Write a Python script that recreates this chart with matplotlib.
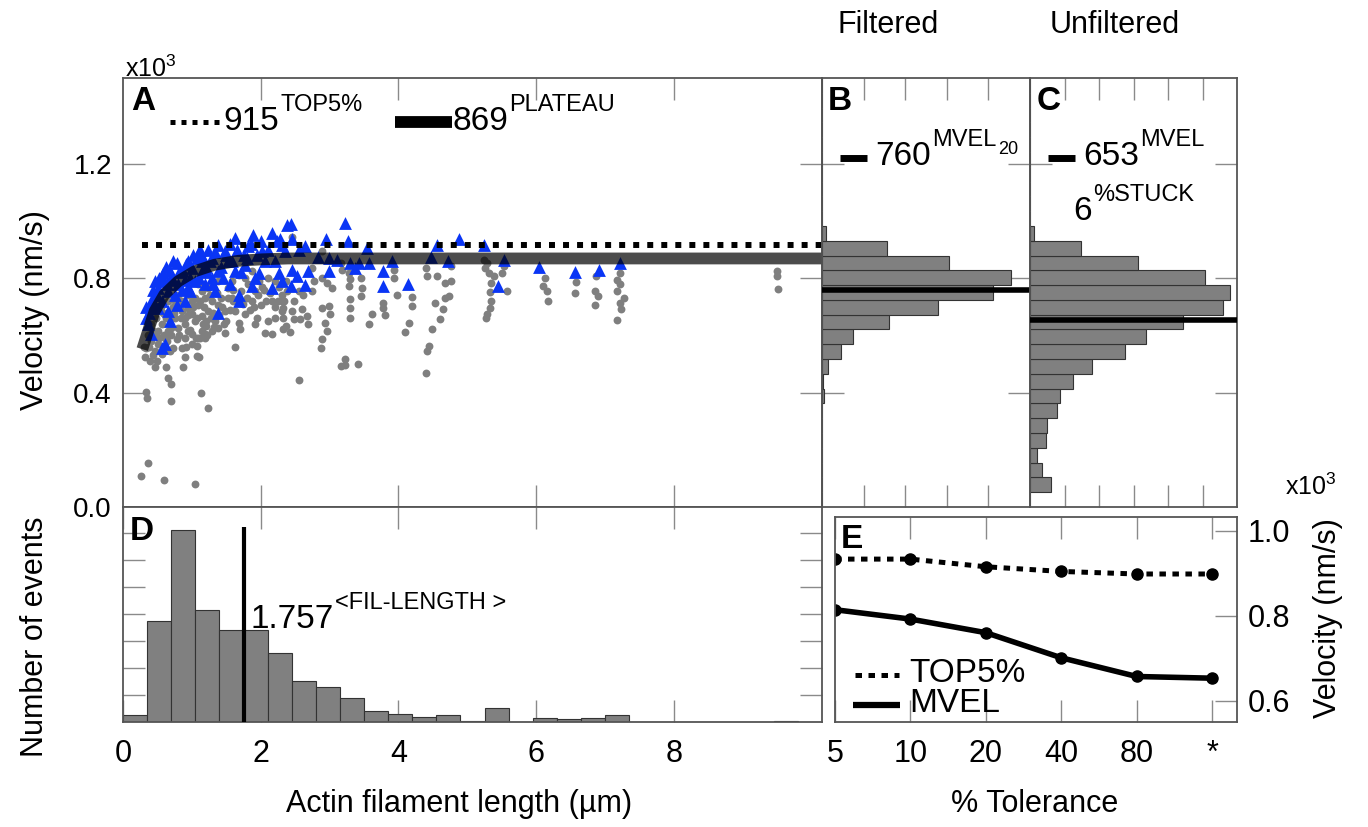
import numpy as np
import matplotlib
matplotlib.use("Agg")
import matplotlib.pyplot as plt
from matplotlib.lines import Line2D

plt.rcParams['font.family'] = ['Liberation Sans', 'DejaVu Sans']
plt.rcParams['mathtext.fontset'] = 'custom'
plt.rcParams['mathtext.rm'] = 'Liberation Sans'

# ---------------- data (velocity in 10^3 nm/s, length in um) ----------------
grey_len = [0.26, 0.36, 0.60, 1.05, 0.34, 0.35, 0.70, 1.13, 1.24, 0.65, 0.69, 2.55, 4.40,
            0.46, 0.63, 0.87, 1.07, 1.10, 1.62, 1.12,
            0.32, 0.39, 0.34, 0.46, 0.56, 0.68, 0.73, 0.61, 0.78, 0.90, 1.00, 1.09, 1.19, 1.14,
            1.21, 1.38, 1.48, 1.34, 1.04, 0.90, 0.80, 0.90, 1.00, 1.14, 1.24, 1.38, 1.48, 1.58,
            1.68, 1.70, 1.63, 1.77, 1.92, 1.94, 2.06, 2.16, 2.11, 2.21, 2.31, 2.36, 2.01, 1.87,
            2.16, 2.31, 1.92, 1.72, 1.53, 1.43, 1.29, 1.19, 1.09, 1.04, 0.95, 0.85, 0.75, 0.70,
            0.51, 0.41, 0.51, 0.56, 0.66, 0.80, 1.14, 1.38, 1.58, 1.77, 1.97, 2.11, 2.21, 2.36,
            1.68, 1.87, 1.09, 1.24, 0.95, 1.29, 1.07, 1.19, 1.00, 0.85, 0.90,
            0.60, 0.45, 0.62, 0.72, 0.95, 0.55, 1.30, 1.60, 1.85, 2.05, 2.25, 1.50, 0.80, 1.20,
            1.00, 0.40,
            0.42, 0.48, 0.52, 0.58, 0.64, 0.66, 0.70, 0.74, 0.76, 0.82, 0.84, 0.86, 0.92, 0.94,
            0.98, 1.02, 1.06, 1.08, 1.12, 1.16, 1.18, 1.22, 1.26, 1.28, 1.32, 1.36, 1.40, 1.44,
            1.46, 1.52, 1.55, 1.60, 1.66, 1.74, 1.80, 1.82, 1.90, 1.96, 2.02, 2.08, 2.14, 2.20,
            2.26, 2.34, 0.38, 0.44, 0.50, 0.58, 0.30, 0.36,
            2.45, 2.89, 3.16, 3.18, 2.74, 2.89, 2.96, 3.03, 3.28, 3.30, 3.28, 3.45, 3.47, 3.45,
            3.30, 3.30, 3.30, 2.89, 2.99, 3.01, 2.94, 2.96, 2.89, 2.87, 3.23, 3.16, 3.23, 3.41,
            3.93, 3.93, 3.98, 3.77, 3.78, 3.80, 3.61, 3.57, 4.19, 4.19, 4.15, 4.10, 4.40, 4.42,
            4.56, 4.67, 4.76, 4.73, 4.68, 4.53, 4.64, 4.61, 4.49, 4.44, 4.42, 4.76, 2.31, 2.38,
            2.48, 2.33, 2.45, 2.33, 2.48, 2.33, 2.43, 2.57, 2.67, 2.69, 2.60, 2.74, 2.62, 2.77,
            2.55,
            5.24, 5.29, 5.26, 5.32, 5.39, 5.34, 5.33, 5.34, 5.33, 5.29, 5.27, 5.51, 5.53, 5.57,
            6.13, 6.10, 6.15, 6.17, 6.58, 6.56, 6.87, 6.85, 6.90, 6.85,
            7.22, 7.18, 7.21, 7.17, 7.27, 7.22, 7.23, 7.17, 9.50, 9.50, 9.51]
grey_vel = [0.110, 0.155, 0.096, 0.082, 0.402, 0.380, 0.369, 0.398, 0.347, 0.450, 0.430, 0.444, 0.468,
            0.490, 0.490, 0.490, 0.527, 0.523, 0.560, 0.592,
            0.523, 0.512, 0.557, 0.546, 0.535, 0.546, 0.557, 0.592, 0.587, 0.592, 0.604, 0.592, 0.592, 0.616,
            0.633, 0.627, 0.610, 0.650, 0.650, 0.639, 0.627, 0.662, 0.674, 0.668, 0.685, 0.708, 0.685, 0.731,
            0.645, 0.621, 0.685, 0.674, 0.639, 0.662, 0.610, 0.604, 0.650, 0.662, 0.685, 0.633, 0.708, 0.720,
            0.720, 0.743, 0.755, 0.755, 0.766, 0.731, 0.720, 0.731, 0.708, 0.731, 0.697, 0.685, 0.662, 0.627,
            0.616, 0.581, 0.569, 0.639, 0.616, 0.743, 0.755, 0.789, 0.789, 0.801, 0.789, 0.801, 0.789, 0.789,
            0.812, 0.824, 0.778, 0.766, 0.616, 0.616, 0.562, 0.604, 0.569, 0.557, 0.523,
            0.600, 0.600, 0.660, 0.700, 0.740, 0.700, 0.680, 0.720, 0.690, 0.760, 0.720, 0.650, 0.700, 0.650,
            0.720, 0.640,
            0.620, 0.660, 0.590, 0.680, 0.580, 0.720, 0.600, 0.680, 0.720, 0.600, 0.660, 0.720, 0.560, 0.670,
            0.620, 0.700, 0.590, 0.660, 0.720, 0.640, 0.700, 0.600, 0.740, 0.660, 0.630, 0.750, 0.670, 0.700,
            0.640, 0.730, 0.690, 0.760, 0.720, 0.710, 0.730, 0.780, 0.700, 0.740, 0.770, 0.720, 0.750, 0.700,
            0.770, 0.720, 0.560, 0.530, 0.510, 0.560, 0.560, 0.600,
            0.945, 0.894, 0.853, 0.830, 0.836, 0.801, 0.784, 0.767, 0.819, 0.796, 0.773, 0.801, 0.767, 0.738,
            0.726, 0.697, 0.660, 0.697, 0.703, 0.674, 0.645, 0.616, 0.587, 0.555, 0.517, 0.494, 0.498, 0.501,
            0.830, 0.801, 0.743, 0.714, 0.697, 0.671, 0.676, 0.639, 0.733, 0.703, 0.645, 0.613, 0.836, 0.807,
            0.807, 0.784, 0.790, 0.738, 0.732, 0.714, 0.691, 0.656, 0.622, 0.564, 0.546, 0.842, 0.720, 0.755,
            0.720, 0.697, 0.685, 0.662, 0.656, 0.622, 0.613, 0.656, 0.668, 0.639, 0.691, 0.755, 0.743, 0.790,
            0.755,
            0.865, 0.854, 0.836, 0.819, 0.807, 0.784, 0.752, 0.720, 0.697, 0.674, 0.662, 0.819, 0.842, 0.755,
            0.801, 0.772, 0.755, 0.720, 0.786, 0.749, 0.807, 0.755, 0.737, 0.705,
            0.818, 0.795, 0.778, 0.755, 0.732, 0.714, 0.691, 0.654, 0.824, 0.807, 0.763]

blue_len = [0.34, 0.41, 0.46, 0.51, 0.58, 0.68, 0.78, 0.87, 1.07, 1.09, 1.24, 1.38, 1.63, 1.89,
            2.16, 2.38, 1.48, 1.82, 2.02, 2.31, 1.14, 1.04, 0.80, 0.66, 0.56, 0.51, 0.36, 0.41,
            0.56, 0.61, 0.68, 0.66, 0.90, 0.78, 0.97, 1.19, 1.33, 1.38, 1.29, 1.38, 1.63, 1.68,
            1.68, 1.87, 1.97, 2.16, 2.26, 2.21, 2.06, 1.77, 1.53, 1.29, 1.00, 1.14, 0.90, 0.73,
            0.44, 0.95, 1.20, 1.45, 1.75, 0.60, 0.85, 1.10, 0.50, 2.00, 1.55,
            0.38, 0.43, 0.47, 0.53, 0.62, 0.70, 0.72, 0.76, 0.82, 0.92, 0.98, 1.02, 1.12, 1.16,
            1.22, 1.26, 1.34, 1.42, 1.50, 1.58, 1.66, 1.72, 1.80, 1.86, 1.94, 2.10, 2.24, 0.33,
            0.40, 0.48, 0.64, 0.94, 1.30, 1.56, 1.92,
            2.44, 3.23, 4.88, 2.28, 2.46, 2.95, 3.27, 3.54, 4.56, 2.65, 2.55, 2.355, 2.83, 2.99,
            3.11, 3.30, 3.42, 3.57, 3.91, 4.47, 4.72, 3.37, 3.78, 2.45, 2.69, 2.99, 2.52, 2.31,
            2.44, 2.65, 3.77, 4.14,
            5.24, 5.44, 5.53, 6.04, 6.57, 6.91, 7.22]
blue_vel = [0.662, 0.697, 0.743, 0.766, 0.818, 0.824, 0.853, 0.824, 0.870, 0.888, 0.899, 0.917, 0.940, 0.951,
            0.957, 0.986, 0.894, 0.911, 0.894, 0.917, 0.824, 0.789, 0.778, 0.755, 0.720, 0.697, 0.639, 0.604,
            0.557, 0.569, 0.650, 0.685, 0.720, 0.708, 0.755, 0.778, 0.755, 0.679, 0.801, 0.824, 0.824, 0.743,
            0.720, 0.772, 0.818, 0.766, 0.818, 0.859, 0.859, 0.847, 0.859, 0.870, 0.836, 0.859, 0.795, 0.795,
            0.720, 0.860, 0.840, 0.800, 0.880, 0.790, 0.760, 0.800, 0.740, 0.930, 0.920,
            0.680, 0.760, 0.790, 0.800, 0.840, 0.800, 0.860, 0.740, 0.820, 0.850, 0.800, 0.880, 0.900, 0.870,
            0.820, 0.860, 0.890, 0.840, 0.880, 0.860, 0.900, 0.820, 0.870, 0.920, 0.880, 0.900, 0.930, 0.700,
            0.720, 0.700, 0.780, 0.770, 0.780, 0.780, 0.800,
            0.989, 0.992, 0.938, 0.938, 0.938, 0.938, 0.929, 0.906, 0.915, 0.911, 0.899, 0.894, 0.873, 0.871,
            0.865, 0.853, 0.853, 0.853, 0.859, 0.873, 0.859, 0.834, 0.825, 0.830, 0.825, 0.825, 0.807, 0.790,
            0.773, 0.776, 0.773, 0.779,
            0.917, 0.772, 0.862, 0.840, 0.821, 0.828, 0.853]

# fitted curve
fit_len = [0.28, 0.38, 0.46, 0.60, 0.80, 1.04, 1.33, 1.68, 2.02, 2.40, 3.00, 10.15]
fit_vel = [0.552, 0.627, 0.685, 0.743, 0.789, 0.824, 0.847, 0.861, 0.866, 0.869, 0.869, 0.869]
top5_level = 0.915
top5_start = 0.27

# velocity histograms (29 bins over 0-1.5), B = filtered, C = unfiltered
filt_counts = [0, 0, 0, 0, 0, 0, 0, 0.5, 0.3, 1.5, 4.5, 7.5, 16.2, 28.0, 41.0, 45.4, 30.6, 15.6, 1.0,
               0, 0, 0, 0, 0, 0, 0, 0, 0, 0]
unfilt_counts = [0, 6.1, 3.5, 1.9, 4.5, 5.0, 7.8, 8.8, 12.6, 18.0, 27.5, 33.7, 44.3, 55.8, 58.1, 50.6,
                 31.3, 14.7, 1.1, 0, 0, 0, 0, 0, 0, 0, 0, 0, 0]
mvel20 = 0.760
mvel_all = 0.653

# filament length histogram (29 bins over 0-10.15)
len_counts = [5, 75, 142, 83, 68, 68, 51, 30, 26, 18, 8, 6, 4, 5, 1, 10, 0, 3, 2, 3, 5,
              0, 0, 0, 0, 0, 0, 1, 0]
mean_len = 1.757

# tolerance panel
tol_labels = ['5', '10', '20', '40', '80', '*']
top5_tol = [0.933, 0.933, 0.915, 0.904, 0.898, 0.898]
mvel_tol = [0.814, 0.792, 0.760, 0.701, 0.657, 0.653]

# ---------------- layout ----------------
W, H = 1368, 827
fig = plt.figure(figsize=(W / 100, H / 100), dpi=100)


def box(l, t, r, b):
    return [l / W, 1 - b / H, (r - l) / W, (b - t) / H]


def frame(ax, size=20):
    for s in ax.spines.values():
        s.set_color('#555555')
        s.set_linewidth(1.3)
    ax.tick_params(which='both', direction='in', length=16, width=1.0, color='#8a8a8a',
                   top=True, right=True, labelsize=size, pad=8)


def sup_text(ax, x, y, main, sup, sub=None, size=24, supsize=17):
    t = ax.text(x, y, main, transform=ax.transAxes, fontsize=size, va='baseline', ha='left')
    s = ax.annotate(sup, xy=(1, 1), xycoords=t, xytext=(1, 1), textcoords='offset points',
                    fontsize=supsize, va='center', ha='left')
    if sub:
        ax.annotate(sub, xy=(1, 0.05), xycoords=s, xytext=(1, 0), textcoords='offset points',
                    fontsize=13, va='center', ha='left')
    return t


def sample(ax, x0, x1, y, **kw):
    ax.add_line(Line2D([x0, x1], [y, y], transform=ax.transAxes, color='black', **kw))


axA = fig.add_axes(box(123, 78, 822, 507))
axB = fig.add_axes(box(822, 78, 1030, 507))
axC = fig.add_axes(box(1030, 78, 1237, 507))
axD = fig.add_axes(box(123, 507, 822, 722))
axE = fig.add_axes(box(835, 517, 1237, 722))

# ---- A: velocity vs length
axA.scatter(grey_len, grey_vel, s=32, color='#7f7f7f', lw=0, zorder=2)
axA.scatter(blue_len, blue_vel, s=85, marker='^', color='#0a35f5', lw=0, zorder=3)
axA.plot(fit_len, fit_vel, color='black', alpha=0.7, lw=8.5, solid_capstyle='butt', zorder=4)
axA.plot([top5_start, 10.15], [top5_level, top5_level], color='black', lw=4.3,
         ls=(0, (1, 1.35)), zorder=5)
axA.set_xlim(0, 10.15)
axA.set_ylim(0, 1.5)
axA.set_xticks([2, 4, 6, 8])
axA.set_xticklabels([])
axA.set_yticks([0, 0.4, 0.8, 1.2])
axA.set_yticklabels(['0.0', '0.4', '0.8', '1.2'])
frame(axA)
axA.text(0.012, 0.925, 'A', transform=axA.transAxes, fontsize=24, fontweight='bold')
sample(axA, 0.067, 0.137, 0.897, lw=3.6, ls=(0, (1, 1.2)))
sup_text(axA, 0.143, 0.879, '915', 'TOP5%')
sample(axA, 0.389, 0.471, 0.897, lw=8.5, solid_capstyle='butt')
sup_text(axA, 0.471, 0.879, '869', 'PLATEAU')

# ---- B / C: velocity histograms
vel_edges = np.linspace(0, 1.5, 30)
for ax, counts, mean, xmax in [(axB, filt_counts, mvel20, 50), (axC, unfilt_counts, mvel_all, 60)]:
    ax.barh(vel_edges[:-1], counts, height=np.diff(vel_edges), align='edge',
            color='#808080', edgecolor='#333333', lw=0.8, zorder=2)
    ax.axhline(mean, color='black', lw=4, zorder=3)
    ax.set_xlim(0, xmax)
    ax.set_ylim(0, 1.5)
    ax.set_xticks(np.arange(10, xmax, 10))
    ax.set_yticks([0.4, 0.8, 1.2])
    ax.set_xticklabels([])
    ax.set_yticklabels([])
    frame(ax)

axB.text(0.03, 0.925, 'B', transform=axB.transAxes, fontsize=24, fontweight='bold')
sample(axB, 0.087, 0.216, 0.814, lw=5, solid_capstyle='butt')
sup_text(axB, 0.255, 0.797, '760', 'MVEL', sub='20')
axC.text(0.03, 0.925, 'C', transform=axC.transAxes, fontsize=24, fontweight='bold')
sample(axC, 0.087, 0.217, 0.814, lw=5, solid_capstyle='butt')
sup_text(axC, 0.256, 0.797, '653', 'MVEL')
sup_text(axC, 0.208, 0.669, '6', '%STUCK')

# ---- D: filament length histogram
len_edges = np.linspace(0, 10.15, 30)
axD.bar(len_edges[:-1], len_counts, width=np.diff(len_edges), align='edge',
        color='#808080', edgecolor='#333333', lw=0.8, zorder=2)
axD.vlines(mean_len, 0, 144, color='black', lw=3, zorder=3)
axD.set_xlim(0, 10.15)
axD.set_ylim(0, 159)
axD.set_xticks([0, 2, 4, 6, 8])
axD.set_yticks(np.arange(20, 141, 20))
axD.set_yticklabels([])
frame(axD, size=22)
axD.tick_params(axis='x', pad=12)
axD.text(0.01, 0.847, 'D', transform=axD.transAxes, fontsize=24, fontweight='bold')
sup_text(axD, 0.182, 0.437, '1.757', '<FIL-LENGTH >')

# ---- E: tolerance
tol_pos = np.arange(len(tol_labels))
axE.plot(tol_pos, top5_tol, color='black', lw=3.6, ls=(0, (1.3, 1.3)), marker='o', ms=8,
         label='TOP5%')
axE.plot(tol_pos, mvel_tol, color='black', lw=4, marker='o', ms=8, label='MVEL')
axE.set_xlim(0, 5.33)
axE.set_ylim(0.55, 1.032)
axE.set_xticks(tol_pos)
axE.set_xticklabels(tol_labels)
axE.set_yticks([0.6, 0.8, 1.0])
axE.set_yticklabels(['0.6', '0.8', '1.0'])
frame(axE, size=22)
axE.tick_params(axis='y', left=False, labelleft=False, right=True, labelright=True, pad=8)
axE.tick_params(axis='x', pad=12)
axE.text(0.015, 0.849, 'E', transform=axE.transAxes, fontsize=24, fontweight='bold')
sample(axE, 0.05, 0.159, 0.23, lw=3.6, ls=(0, (1.3, 1.3)))
axE.text(0.184, 0.195, 'TOP5%', transform=axE.transAxes, fontsize=24, va='baseline')
sample(axE, 0.045, 0.161, 0.085, lw=4.5, solid_capstyle='butt')
axE.text(0.184, 0.049, 'MVEL', transform=axE.transAxes, fontsize=24, va='baseline')

# ---- figure-level labels
fig.text(35 / W, 1 - 310 / H, 'Velocity (nm/s)', rotation=90, ha='center', va='center', fontsize=22)
fig.text(35 / W, 1 - 637 / H, 'Number of events', rotation=90, ha='center', va='center', fontsize=22)
fig.text(459 / W, 1 - 812 / H, 'Actin filament length (µm)', ha='center', va='baseline', fontsize=22)
fig.text(1035 / W, 1 - 812 / H, '% Tolerance', ha='center', va='baseline', fontsize=22)
fig.text(1328 / W, 1 - 618 / H, 'Velocity (nm/s)', rotation=90, ha='center', va='center', fontsize=22)
fig.text(838 / W, 1 - 33 / H, 'Filtered', va='baseline', fontsize=22)
fig.text(1050 / W, 1 - 33 / H, 'Unfiltered', va='baseline', fontsize=22)
fig.text(125 / W, 1 - 77 / H, r'x10$^3$', va='baseline', fontsize=18)
fig.text(1285 / W, 1 - 495 / H, r'x10$^3$', va='baseline', fontsize=18)

fig.savefig('out.png', dpi=100)
